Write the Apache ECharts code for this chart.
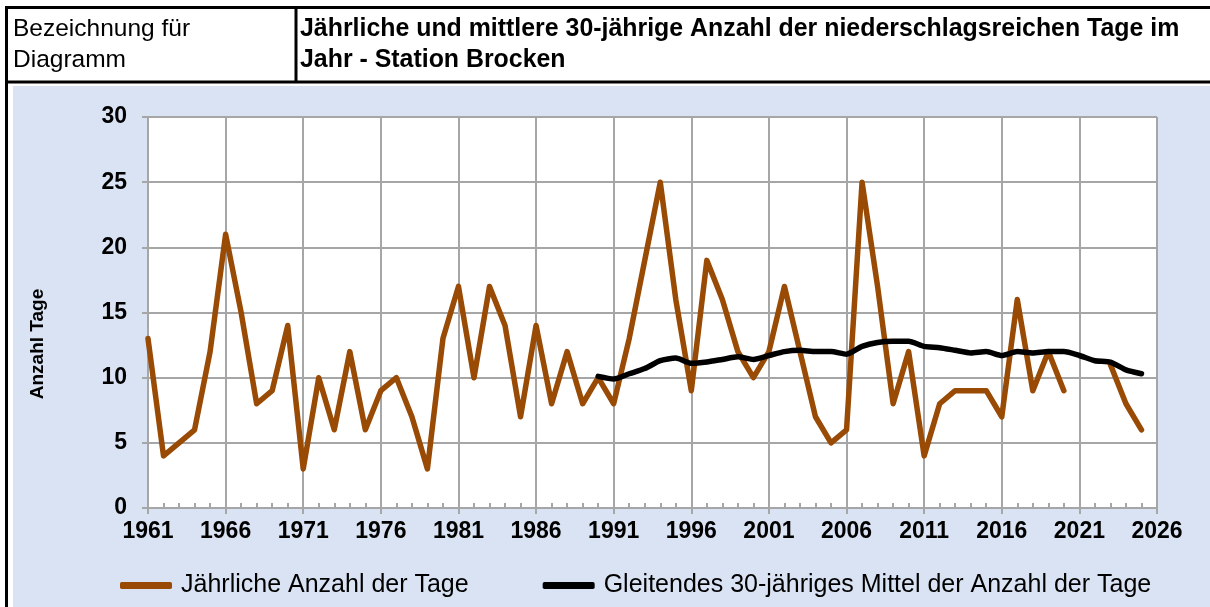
<!DOCTYPE html>
<html lang="de">
<head>
<meta charset="utf-8">
<title>Niederschlagsreiche Tage - Station Brocken</title>
<script src="https://cdn.jsdelivr.net/npm/echarts@6/dist/echarts.min.js"></script>
<style>
  html, body { margin: 0; padding: 0; background: #fff; }
  #chart { width: 1210px; height: 607px; }
</style>
</head>
<body>
<div id="chart"></div>
<script>
// Werte
const firstYear = 1961;
const years = [
  1961, 1962, 1963, 1964, 1965, 1966, 1967, 1968, 1969, 1970,
  1971, 1972, 1973, 1974, 1975, 1976, 1977, 1978, 1979, 1980,
  1981, 1982, 1983, 1984, 1985, 1986, 1987, 1988, 1989, 1990,
  1991, 1992, 1993, 1994, 1995, 1996, 1997, 1998, 1999, 2000,
  2001, 2002, 2003, 2004, 2005, 2006, 2007, 2008, 2009, 2010,
  2011, 2012, 2013, 2014, 2015, 2016, 2017, 2018, 2019, 2020,
  2021, 2022, 2023, 2024, 2025
];
const yearlyDays = [
  13, 4, 5, 6, 12, 21, 15, 8, 9, 14,
  3, 10, 6, 12, 6, 9, 10, 7, 3, 13,
  17, 10, 17, 14, 7, 14, 8, 12, 8, 10,
  8, 13, 19, 25, 16, 9, 19, 16, 12, 10,
  12, 17, 12, 7, 5, 6, 25, 17, 8, 12,
  4, 8, 9, 9, 9, 7, 16, 9, 12, 9,
  null, null, 11, 8, 6
];
const meanYears = [
  1990, 1991, 1992, 1993, 1994, 1995, 1996, 1997, 1998, 1999,
  2000, 2001, 2002, 2003, 2004, 2005, 2006, 2007, 2008, 2009,
  2010, 2011, 2012, 2013, 2014, 2015, 2016, 2017, 2018, 2019,
  2020, 2021, 2022, 2023, 2024, 2025
];
const movingMean = [
  10.1, 9.9, 10.3, 10.7, 11.3, 11.5, 11.1, 11.2, 11.4, 11.6,
  11.4, 11.7, 12.0, 12.1, 12.0, 12.0, 11.8, 12.4, 12.7, 12.8,
  12.8, 12.4, 12.3, 12.1, 11.9, 12.0, 11.7, 12.0, 11.9, 12.0,
  12.0, 11.7, 11.3, 11.2, 10.6, 10.3
];

const headerLabel = ['Bezeichnung für', 'Diagramm'];
const titleLines = [
  'Jährliche und mittlere 30-jährige Anzahl der niederschlagsreichen Tage im',
  'Jahr - Station Brocken'
];
const yAxisName = 'Anzahl Tage';
const seriesNames = ['Jährliche Anzahl der Tage', 'Gleitendes 30-jähriges Mittel der Anzahl der Tage'];

const font = '"Liberation Sans", Arial, Helvetica, sans-serif';
const gridColor = '#a6a6a6';
const brown = '#994a04';

const toPoints = (xs, ys) => xs.map((y, i) => [y - firstYear, ys[i]]);

const chart = echarts.init(document.getElementById('chart'));

chart.setOption({
  animation: false,
  backgroundColor: '#ffffff',
  textStyle: { fontFamily: font },
  graphic: [
    { type: 'rect', z: -100, shape: { x: 13, y: 86, width: 1197, height: 521 }, style: { fill: '#dae3f3' } },
    { type: 'line', shape: { x1: 5, y1: 7.5, x2: 1210, y2: 7.5 }, style: { stroke: '#000', lineWidth: 3 } },
    { type: 'line', shape: { x1: 5, y1: 82, x2: 1210, y2: 82 }, style: { stroke: '#000', lineWidth: 3 } },
    { type: 'line', shape: { x1: 6.5, y1: 6, x2: 6.5, y2: 607 }, style: { stroke: '#000', lineWidth: 3 } },
    { type: 'line', shape: { x1: 296, y1: 7, x2: 296, y2: 82 }, style: { stroke: '#000', lineWidth: 3 } },
    { type: 'text', x: 13, y: 29, style: { text: headerLabel[0], fill: '#000', font: '24.5px ' + font, verticalAlign: 'middle' } },
    { type: 'text', x: 13, y: 60, style: { text: headerLabel[1], fill: '#000', font: '24.5px ' + font, verticalAlign: 'middle' } },
    { type: 'text', x: 300, y: 29, style: { text: titleLines[0], fill: '#000', font: 'bold 24.9px ' + font, verticalAlign: 'middle' } },
    { type: 'text', x: 300, y: 60, style: { text: titleLines[1], fill: '#000', font: 'bold 24.9px ' + font, verticalAlign: 'middle' } },
    {
      type: 'text', x: 38, y: 344, rotation: Math.PI / 2,
      style: { text: yAxisName, fill: '#000', font: 'bold 19px ' + font, align: 'center', verticalAlign: 'middle' }
    }
  ],
  grid: {
    left: 148, top: 117, width: 1009, height: 391,
    show: true, backgroundColor: '#ffffff', borderWidth: 0
  },
  legend: {
    left: 115, top: 568,
    itemGap: 74, itemWidth: 52, itemHeight: 7,
    icon: 'roundRect',
    textStyle: { fontSize: 25, color: '#000', fontFamily: font, padding: [0, 0, 0, 4] },
    data: seriesNames
  },
  xAxis: [
    {
      type: 'value', min: 0, max: 65, interval: 5,
      axisLine: { show: true, lineStyle: { color: gridColor, width: 2 } },
      axisTick: { show: true, length: 6, lineStyle: { color: gridColor, width: 2 } },
      splitLine: { show: true, lineStyle: { color: gridColor, width: 2 } },
      axisLabel: {
        margin: 12, color: '#000', fontWeight: 'bold', fontSize: 23, fontFamily: font,
        formatter: (v) => String(firstYear + v)
      }
    },
    {
      // nur die kleinen Jahres-Striche innen
      type: 'value', min: 0, max: 65, interval: 5, position: 'bottom',
      axisLine: { show: false },
      axisTick: { show: false, inside: true },
      axisLabel: { show: false },
      splitLine: { show: false },
      minorTick: { show: true, splitNumber: 5, length: 5, lineStyle: { color: gridColor, width: 2 } }
    }
  ],
  yAxis: {
    type: 'value', min: 0, max: 30, interval: 5,
    axisLine: { show: true, lineStyle: { color: gridColor, width: 2 } },
    axisTick: { show: true, length: 6, lineStyle: { color: gridColor, width: 2 } },
    splitLine: { show: true, lineStyle: { color: gridColor, width: 2 } },
    axisLabel: { margin: 21, color: '#000', fontWeight: 'bold', fontSize: 23, fontFamily: font }
  },
  series: [
    {
      name: seriesNames[0],
      type: 'line',
      xAxisIndex: 0,
      data: toPoints(years, yearlyDays),
      showSymbol: false,
      connectNulls: false,
      color: brown,
      lineStyle: { color: brown, width: 5.5, join: 'round', cap: 'round' },
      z: 3
    },
    {
      name: seriesNames[1],
      type: 'line',
      xAxisIndex: 0,
      data: toPoints(meanYears, movingMean),
      showSymbol: false,
      smooth: 0.2,
      color: '#000',
      lineStyle: { color: '#000', width: 5.5, join: 'round', cap: 'round' },
      z: 4
    }
  ]
});
</script>
</body>
</html>
